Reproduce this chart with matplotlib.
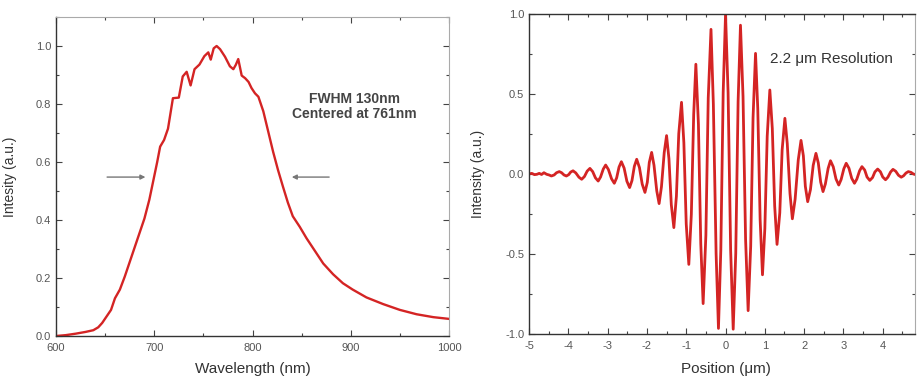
import matplotlib
matplotlib.use("Agg")
import matplotlib.pyplot as plt
from matplotlib.ticker import MultipleLocator, FormatStrFormatter

plt.rcParams["font.family"] = ["Liberation Sans", "DejaVu Sans"]
plt.rcParams["axes.unicode_minus"] = False

# emission spectrum (left panel)
wavelength = [600, 610, 620, 630, 638, 643, 647, 652, 656, 660, 665, 670, 675, 680,
              685, 690, 695, 699, 703, 706, 710, 714, 719, 725, 729, 733, 737, 741,
              746, 751, 755, 757.5, 760.5, 763.5, 767, 772, 777, 780.5, 783, 785.5,
              789, 792.5, 796, 799, 802.5, 806, 811, 816, 821, 826, 831, 836, 841,
              848, 855, 864, 872, 882, 892, 902, 916, 933, 950, 967, 984, 1000]
spectrum = [0.0, 0.003, 0.008, 0.014, 0.020, 0.030, 0.045, 0.070, 0.090, 0.130, 0.160,
            0.205, 0.255, 0.305, 0.355, 0.405, 0.470, 0.535, 0.600, 0.653, 0.676,
            0.715, 0.820, 0.822, 0.895, 0.911, 0.864, 0.920, 0.936, 0.965, 0.978,
            0.953, 0.992, 1.000, 0.989, 0.963, 0.930, 0.920, 0.935, 0.955, 0.898,
            0.889, 0.876, 0.855, 0.837, 0.825, 0.775, 0.705, 0.635, 0.572, 0.515,
            0.460, 0.413, 0.377, 0.337, 0.291, 0.250, 0.213, 0.182, 0.160, 0.133,
            0.110, 0.090, 0.075, 0.065, 0.059]

# interferogram (right panel)
position = [-5.00, -4.93, -4.86, -4.80, -4.74, -4.68, -4.62, -4.55, -4.49,
            -4.43, -4.36, -4.30, -4.23, -4.17, -4.11, -4.05, -3.99, -3.94,
            -3.88, -3.81, -3.73, -3.66, -3.59, -3.52, -3.45, -3.38, -3.31,
            -3.24, -3.18, -3.11, -3.05, -2.98, -2.90, -2.83, -2.77, -2.71,
            -2.65, -2.58, -2.51, -2.44, -2.38, -2.32, -2.26, -2.19, -2.12,
            -2.05, -1.99, -1.94, -1.88, -1.82, -1.75, -1.69, -1.63, -1.56,
            -1.50, -1.44, -1.38, -1.315, -1.25, -1.19, -1.12, -1.06, -1.00,
            -0.934, -0.87, -0.81, -0.755, -0.69, -0.63, -0.57, -0.50, -0.44,
            -0.37, -0.31, -0.24, -0.18, -0.12, -0.06, 0.0, 0.065, 0.13,
            0.195, 0.26, 0.32, 0.38, 0.445, 0.51, 0.575, 0.64, 0.70,
            0.763, 0.82, 0.88, 0.94, 1.00, 1.06, 1.127, 1.19, 1.25,
            1.31, 1.38, 1.44, 1.51, 1.57, 1.64, 1.70, 1.77, 1.85,
            1.92, 1.98, 2.03, 2.09, 2.16, 2.23, 2.30, 2.36, 2.42,
            2.48, 2.54, 2.61, 2.67, 2.74, 2.81, 2.88, 2.94, 3.01,
            3.07, 3.14, 3.21, 3.28, 3.34, 3.41, 3.47, 3.54, 3.60,
            3.67, 3.74, 3.80, 3.87, 3.94, 4.00, 4.07, 4.13, 4.20,
            4.26, 4.33, 4.40, 4.47, 4.53, 4.59, 4.65, 4.72, 4.78, 4.85]
signal = [0.0, 0.004, -0.004, -0.002, 0.004, -0.003, 0.008, -0.002, -0.006,
          -0.0125, -0.006, 0.008, 0.015, 0.008, -0.006, -0.0125, -0.004, 0.012,
          0.020, 0.007, -0.020, -0.033, -0.016, 0.018, 0.035, 0.015, -0.024,
          -0.044, -0.019, 0.031, 0.056, 0.028, -0.030, -0.058, -0.024, 0.043,
          0.077, 0.037, -0.045, -0.085, -0.041, 0.048, 0.092, 0.040, -0.063,
          -0.115, -0.052, 0.072, 0.135, 0.055, -0.105, -0.185, -0.079, 0.134,
          0.240, 0.096, -0.191, -0.335, -0.139, 0.252, 0.448, 0.195, -0.312,
          -0.565, -0.252, 0.373, 0.686, 0.312, -0.436, -0.810, -0.382, 0.476,
          0.904, 0.437, -0.498, -0.965, -0.474, 0.509, 1.000, 0.508, -0.478,
          -0.970, -0.495, 0.455, 0.930, 0.484, -0.408, -0.854, -0.452, 0.352,
          0.754, 0.408, -0.284, -0.630, -0.341, 0.236, 0.525, 0.284, -0.199,
          -0.440, -0.243, 0.151, 0.348, 0.191, -0.123, -0.280, -0.158, 0.088,
          0.210, 0.114, -0.077, -0.173, -0.098, 0.054, 0.129, 0.069, -0.050,
          -0.110, -0.062, 0.035, 0.083, 0.045, -0.031, -0.069, -0.035, 0.033,
          0.067, 0.036, -0.027, -0.058, -0.032, 0.020, 0.046, 0.025, -0.019,
          -0.040, -0.022, 0.013, 0.031, 0.014, -0.019, -0.036, -0.020, 0.013,
          0.029, 0.017, -0.008, -0.020, -0.011, 0.006, 0.015, 0.010, 0.0, -0.005]

red = "#d42424"
txt = "#333333"
tick_txt = "#555555"


def style_axes(ax, dark, light):
    ax.tick_params(which="both", direction="in", top=True, right=True,
                   labelsize=8, labelcolor=tick_txt, color="#444444", width=0.8)
    ax.tick_params(which="major", length=4)
    ax.tick_params(which="minor", length=2.5)
    ax.tick_params(axis="x", pad=5)
    for s in dark:
        ax.spines[s].set_color("#333333")
        ax.spines[s].set_linewidth(1.0)
    for s in light:
        ax.spines[s].set_color("#aaaaaa")
        ax.spines[s].set_linewidth(0.8)


fig = plt.figure(figsize=(9.17, 3.83), dpi=100)

ax1 = fig.add_axes([56 / 917, 1 - 336 / 383, 393 / 917, 319 / 383])
ax1.plot(wavelength, spectrum, color=red, lw=1.7, solid_joinstyle="round")
ax1.set_xlim(600, 1000)
ax1.set_ylim(0, 1.1)
ax1.xaxis.set_major_locator(MultipleLocator(100))
ax1.xaxis.set_minor_locator(MultipleLocator(50))
ax1.yaxis.set_major_locator(MultipleLocator(0.2))
ax1.yaxis.set_minor_locator(MultipleLocator(0.1))
ax1.yaxis.set_major_formatter(FormatStrFormatter("%.1f"))
style_axes(ax1, ["left", "bottom"], ["top", "right"])
ax1.set_xlabel("Wavelength (nm)", fontsize=11, color=txt)
ax1.set_ylabel("Intesity (a.u.)", fontsize=10, color=txt)
ax1.xaxis.set_label_coords(0.5, -0.08)
ax1.yaxis.set_label_coords(-0.099, 0.5)

ax1.text(904, 0.817, "FWHM 130nm", ha="center", va="center", fontsize=10,
         weight="bold", color="#444444")
ax1.text(904, 0.767, "Centered at 761nm", ha="center", va="center", fontsize=10,
         weight="bold", color="#444444")
arrow = dict(arrowstyle="-|>", color="#777777", lw=1.0, mutation_scale=7,
             shrinkA=0, shrinkB=0)
ax1.annotate("", xy=(691, 0.548), xytext=(652, 0.548), arrowprops=arrow)
ax1.annotate("", xy=(840, 0.548), xytext=(878, 0.548), arrowprops=arrow)

ax2 = fig.add_axes([529 / 917, 1 - 334 / 383, 386 / 917, 320 / 383])
ax2.plot(position, signal, color=red, lw=2.0, solid_joinstyle="round")
ax2.set_xlim(-5, 4.82)
ax2.set_ylim(-1, 1)
ax2.xaxis.set_major_locator(MultipleLocator(1))
ax2.xaxis.set_minor_locator(MultipleLocator(0.5))
ax2.yaxis.set_major_locator(MultipleLocator(0.5))
ax2.yaxis.set_minor_locator(MultipleLocator(0.25))
ax2.yaxis.set_major_formatter(FormatStrFormatter("%.1f"))
style_axes(ax2, ["left", "bottom", "top"], ["right"])
ax2.set_xlabel("Position (\u03bcm)", fontsize=11, color=txt)
ax2.set_ylabel("Intensity (a.u.)", fontsize=10, color=txt)
ax2.xaxis.set_label_coords(0.51, -0.088)
ax2.yaxis.set_label_coords(-0.114, 0.5)
ax2.text(1.13, 0.717, "2.2 \u03bcm Resolution", ha="left", va="center",
         fontsize=11, color=txt)

fig.savefig("out.png", dpi=100)
